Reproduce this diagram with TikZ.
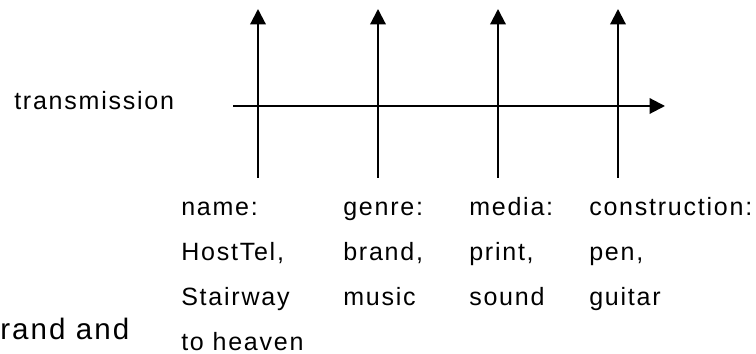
\documentclass[tikz,border=0pt]{standalone}
\usepackage{fontspec}
\setmainfont{Liberation Sans}[LetterSpace=7]
\usetikzlibrary{arrows.meta,positioning}
\tikzstyle{line} = [draw=black, line width=1.5pt, -{Triangle[length=11pt,width=11pt]}]
\tikzstyle{txt} = [inner sep=0pt, text height=12.5pt, text depth=3.5pt, font=\fontsize{17.8}{20}\selectfont]
\tikzstyle{cell} = [txt, below=15.5pt of #1.south west, anchor=north west]

\begin{document}
\begin{tikzpicture}[x=0.025cm,y=0.025cm]
	\useasboundingbox (0,0) rectangle (756,354);

	% ends of the axis and of the four arrows
	\coordinate (axisstart) at (233,248);
	\coordinate (axisend) at (665,248);
	\coordinate (namefoot) at (258,176);
	\coordinate (nametip) at (258,345);
	\coordinate (genrefoot) at (378,176);
	\coordinate (genretip) at (378,345);
	\coordinate (mediafoot) at (498,176);
	\coordinate (mediatip) at (498,345);
	\coordinate (constrfoot) at (618,176);
	\coordinate (constrtip) at (618,345);

	\path[line] (axisstart) -- (axisend);
	\path[line] (namefoot)  -- (nametip);
	\path[line] (genrefoot) -- (genretip);
	\path[line] (mediafoot) -- (mediatip);
	\path[line] (constrfoot) -- (constrtip);

	\node[txt, anchor=base west] (transmission) at (14,244) {transmission};

	% columns under the arrows
	\node[txt, anchor=base west] (name) at (181,138) {name:};
	\node[cell=name] (hosttel) {HostTel,};
	\node[cell=hosttel] (stairway) {Stairway};
	\node[cell=stairway] (heaven) {to heaven};

	\node[txt, anchor=base west] (genre) at (343,138) {genre:};
	\node[cell=genre] (brand) {brand,};
	\node[cell=brand] (music) {music};

	\node[txt, anchor=base west] (media) at (469,138) {media:};
	\node[cell=media] (print) {print,};
	\node[cell=print] (sound) {sound};

	\node[txt, anchor=base west] (construction) at (589,138) {construction:};
	\node[cell=construction] (pen) {pen,};
	\node[cell=pen] (guitar) {guitar};

	\node[inner sep=0pt, anchor=base west, font=\fontsize{21}{24}\selectfont] (brandand) at (0,14) {rand and};
\end{tikzpicture}
\end{document}
